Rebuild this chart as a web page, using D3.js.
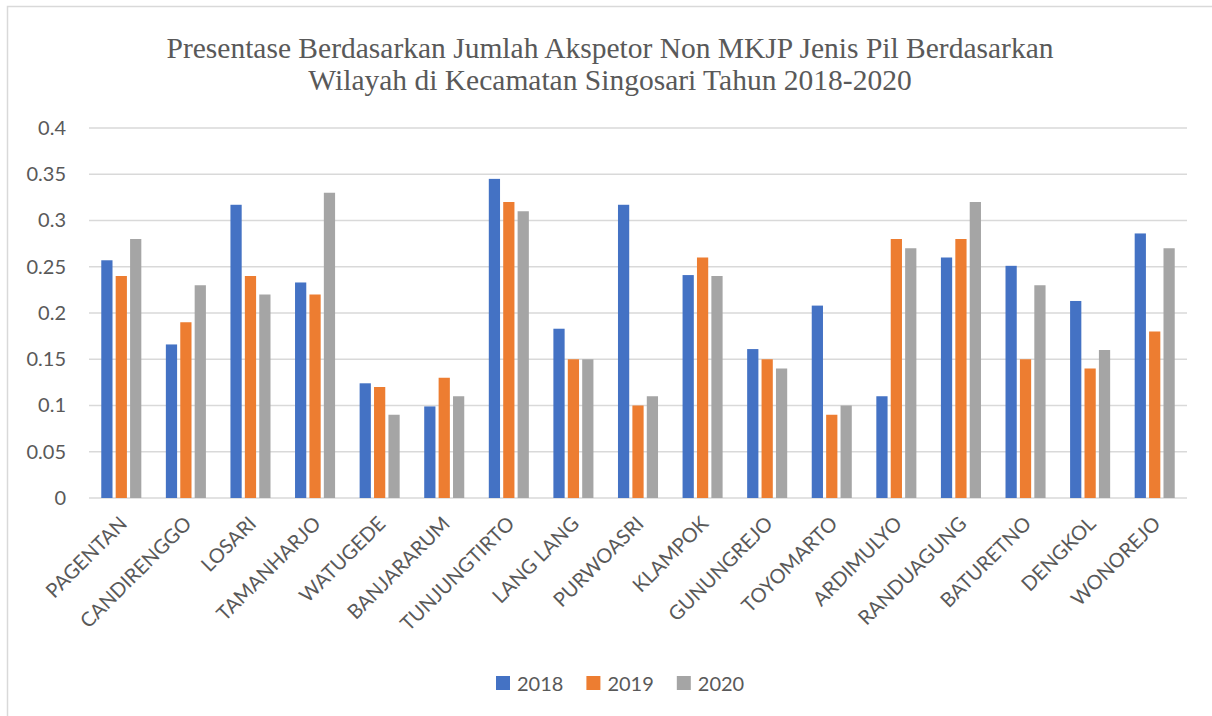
<!DOCTYPE html>
<html>
<head>
<meta charset="utf-8">
<script src="https://cdn.jsdelivr.net/npm/d3@7"></script>
<style>
  body { margin: 0; background: #fff; }
  svg { display: block; }
  .tick text { font-family: Lato, "Noto Sans", sans-serif; fill: #595959; }
</style>
</head>
<body>
<div id="chart"></div>
<script>
var categories = ["PAGENTAN", "CANDIRENGGO", "LOSARI", "TAMANHARJO", "WATUGEDE", "BANJARARUM",
  "TUNJUNGTIRTO", "LANG LANG", "PURWOASRI", "KLAMPOK", "GUNUNGREJO", "TOYOMARTO",
  "ARDIMULYO", "RANDUAGUNG", "BATURETNO", "DENGKOL", "WONOREJO"];
var years = ["2018", "2019", "2020"];
var values2018 = [0.257, 0.166, 0.317, 0.233, 0.124, 0.099, 0.345, 0.183, 0.317, 0.241, 0.161, 0.208, 0.11, 0.26, 0.251, 0.213, 0.286];
var values2019 = [0.24, 0.19, 0.24, 0.22, 0.12, 0.13, 0.32, 0.15, 0.10, 0.26, 0.15, 0.09, 0.28, 0.28, 0.15, 0.14, 0.18];
var values2020 = [0.28, 0.23, 0.22, 0.33, 0.09, 0.11, 0.31, 0.15, 0.11, 0.24, 0.14, 0.10, 0.27, 0.32, 0.23, 0.16, 0.27];
var yTicks = [0, 0.05, 0.1, 0.15, 0.2, 0.25, 0.3, 0.35, 0.4];
var colors = ["#4472C4", "#ED7D31", "#A5A5A5"];
var titleLines = ["Presentase Berdasarkan Jumlah Akspetor Non MKJP Jenis Pil Berdasarkan",
  "Wilayah di Kecamatan Singosari Tahun 2018-2020"];

var W = 1212, H = 716;
var margin = {top: 128, right: 25, bottom: 218, left: 89};
var width = W - margin.left - margin.right;
var height = H - margin.top - margin.bottom;

var series = [values2018, values2019, values2020];

var svg = d3.select("#chart").append("svg")
  .attr("width", W)
  .attr("height", H);

// chart frame
svg.append("rect")
  .attr("x", 7.5).attr("y", 6.5)
  .attr("width", W + 20).attr("height", H + 20)
  .attr("fill", "none")
  .attr("stroke", "#D9D9D9")
  .attr("stroke-width", 1.5);

// title
svg.append("text")
  .attr("text-anchor", "middle")
  .attr("font-family", "'Liberation Serif', 'Times New Roman', serif")
  .attr("font-size", 29.5)
  .attr("fill", "#595959")
  .selectAll("tspan")
  .data(titleLines)
  .enter().append("tspan")
  .attr("x", 610)
  .attr("y", function(d, i) { return 58 + i * 32; })
  .text(function(d) { return d; });

var g = svg.append("g")
  .attr("transform", "translate(" + margin.left + "," + margin.top + ")");

var x0 = d3.scaleBand().domain(categories).range([0, width])
  .paddingInner(0.38).paddingOuter(0.19);
var x1 = d3.scaleBand().domain(years).range([0, x0.bandwidth()]).paddingInner(0.22);
var y = d3.scaleLinear().domain([0, 0.4]).range([height, 0]);

// gridlines
g.append("g")
  .selectAll("line")
  .data(yTicks)
  .enter().append("line")
  .attr("x1", 0).attr("x2", width)
  .attr("y1", function(d) { return y(d); })
  .attr("y2", function(d) { return y(d); })
  .attr("stroke", "#D9D9D9")
  .attr("stroke-width", 1.5);

// y axis labels
var yAxis = g.append("g")
  .call(d3.axisLeft(y).tickValues(yTicks).tickSize(0).tickPadding(23)
    .tickFormat(function(d) { return String(d); }));
yAxis.select(".domain").remove();
yAxis.selectAll("text").attr("font-size", 20);

// bars
var groups = g.selectAll(".grp")
  .data(categories)
  .enter().append("g")
  .attr("class", "grp")
  .attr("transform", function(d) { return "translate(" + x0(d) + ",0)"; });

groups.selectAll("rect")
  .data(function(d, i) { return years.map(function(yr, k) { return {year: yr, k: k, v: series[k][i]}; }); })
  .enter().append("rect")
  .attr("x", function(d) { return x1(d.year); })
  .attr("y", function(d) { return y(d.v); })
  .attr("width", x1.bandwidth())
  .attr("height", function(d) { return height - y(d.v); })
  .attr("fill", function(d) { return colors[d.k]; });

// x axis labels
var xAxis = g.append("g")
  .attr("transform", "translate(0," + height + ")")
  .call(d3.axisBottom(x0).tickSize(0).tickPadding(0));
xAxis.select(".domain").remove();
xAxis.selectAll("text")
  .attr("font-size", 20)
  .attr("text-anchor", "end")
  .attr("dy", 0)
  .attr("y", 0)
  .attr("transform", "translate(7,27) rotate(-45)");

// legend
var legend = svg.append("g").attr("transform", "translate(496,683)");
var lx = 0;
years.forEach(function(yr, k) {
  var item = legend.append("g").attr("transform", "translate(" + lx + ",0)");
  item.append("rect")
    .attr("x", 0).attr("y", -7)
    .attr("width", 14).attr("height", 14)
    .attr("fill", colors[k]);
  var t = item.append("text")
    .attr("x", 21).attr("y", 7.5)
    .attr("font-family", "Lato, 'Noto Sans', sans-serif")
    .attr("font-size", 20)
    .attr("fill", "#595959")
    .text(yr);
  lx += 21 + t.node().getComputedTextLength() + 23;
});
</script>
</body>
</html>
